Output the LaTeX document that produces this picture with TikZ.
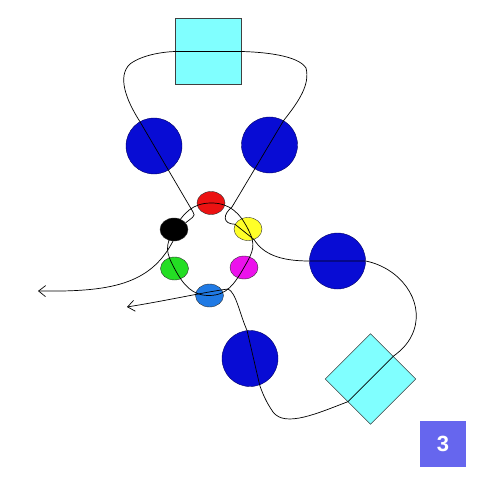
\documentclass[tikz,border=0pt]{standalone}
\usepackage{fontspec}
\setsansfont{Liberation Sans}
\usetikzlibrary{shapes.geometric,arrows.meta}
\definecolor{discblue}{RGB}{8,12,212}
\definecolor{tilecyan}{RGB}{128,255,255}
\definecolor{beadred}{RGB}{236,18,18}
\definecolor{beadyellow}{RGB}{255,255,40}
\definecolor{beadgreen}{RGB}{36,222,36}
\definecolor{beadmagenta}{RGB}{236,18,236}
\definecolor{beadsky}{RGB}{32,122,228}
\definecolor{numblue}{RGB}{102,102,238}

\begin{document}
\begin{tikzpicture}[x=1pt, y=-1pt,
    >={Straight Barb[length=7pt,width=11pt]},
    bigdisc/.style={shape=circle, draw=black!60!blue, fill=discblue, minimum size=56pt, inner sep=0pt},
    bead/.style={shape=ellipse, draw=black!80, minimum width=28pt, minimum height=23pt, inner sep=0pt},
    tile/.style={shape=rectangle, draw=black!75, fill=tilecyan, minimum size=66pt, inner sep=0pt},
    strand/.style={draw=black, line width=0.7pt}]
    \path[use as bounding box, fill=white] (0,0) rectangle (478,481);

    % boxes and discs
    \node[tile] at (208,51.5) (topbox) {};
    \node[tile, minimum size=64pt, rotate=45] at (370.5,379) (diam) {};
    \node[bigdisc] at (154,146) (lcirc) {};
    \node[bigdisc] at (269.5,145) (rcirc) {};
    \node[bigdisc] at (337.5,261) (mcirc) {};
    \node[bigdisc] at (250,358.5) (bcirc) {};

    % the ring of beads
    \node[bead, fill=beadred] at (211,203) (red) {};
    \node[bead, fill=beadyellow] at (248,229) (yel) {};
    \node[bead, fill=beadmagenta] at (244,267.5) (mag) {};
    \node[bead, fill=beadsky] at (209.5,295.5) (sky) {};
    \node[bead, fill=beadgreen] at (174.5,268.5) (grn) {};
    \node[bead, fill=black] at (174,229.5) (blk) {};
    \draw[strand] plot[smooth cycle, tension=0.9] coordinates {(red.center) (yel.center) (mag.center) (sky.center) (grn.center) (blk.center)};

    \coordinate (tipA) at (38,291);
    \coordinate (tipB) at (127,307);

    % the long strand
    \draw[strand] (blk.30) .. controls (190,219) and (197,216) .. (193,212) -- (lcirc.120)
        .. controls (126,100) and (117,76) .. (130,64)
        .. controls (142,55) and (162,52) .. (topbox.west) -- (topbox.east)
        .. controls (262,52) and (298,55) .. (306,68)
        .. controls (310,84) and (300,100) .. (rcirc.60) -- (232,207)
        .. controls (223,214) and (222,224) .. (yel.160) -- (yel.-60)
        .. controls (263,254) and (280,261) .. (mcirc.west) -- (mcirc.east)
        .. controls (400,268) and (424,300) .. (414,330)
        .. controls (410,342) and (402,350) .. (diam.east) -- (diam.west)
        .. controls (318,413) and (285,428) .. (273,412)
        .. controls (266,402) and (262,392) .. (bcirc.-70) -- (bcirc.96)
        .. controls (240,315) and (236,292) .. (228,289);
    \draw[strand, ->] (228,289) .. controls (205,292) and (170,300) .. (tipB);
    \draw[strand, ->] (blk.-95) .. controls (150,285) and (110,292) .. (tipA);

    % label
    \node[fill=numblue, minimum size=46pt, inner sep=0pt, text=white,
        font=\sffamily\bfseries\fontsize{22}{22}\selectfont] at (443,444) (num) {3};
\end{tikzpicture}
\end{document}
